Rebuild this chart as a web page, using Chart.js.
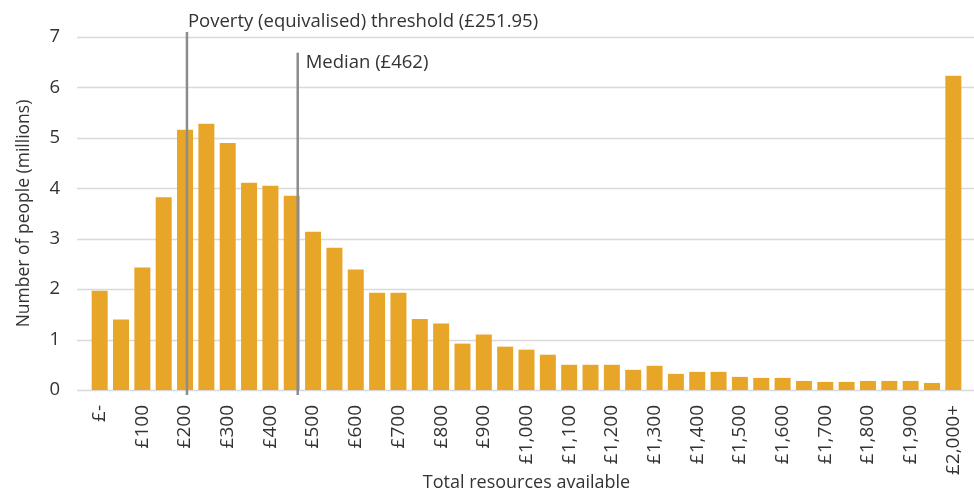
<!DOCTYPE html>
<html>
<head>
<meta charset="utf-8">
<script src="https://cdn.jsdelivr.net/npm/chart.js@4"></script>
<style>
  html, body { margin: 0; padding: 0; background: #fff; }
  #wrap { width: 974px; height: 492px; position: relative; }
</style>
</head>
<body>
<div id="wrap"><canvas id="chart"></canvas></div>
<script>
// weekly resources bands, £50 wide, last one open-ended
const categories = [
  '£-', '£50', '£100', '£150', '£200', '£250', '£300', '£350', '£400', '£450',
  '£500', '£550', '£600', '£650', '£700', '£750', '£800', '£850', '£900', '£950',
  '£1,000', '£1,050', '£1,100', '£1,150', '£1,200', '£1,250', '£1,300', '£1,350', '£1,400', '£1,450',
  '£1,500', '£1,550', '£1,600', '£1,650', '£1,700', '£1,750', '£1,800', '£1,850', '£1,900', '£1,950',
  '£2,000+'
];

// people in each band, millions
const people = [
  1.97, 1.40, 2.43, 3.82, 5.16, 5.28, 4.90, 4.11, 4.05, 3.85,
  3.14, 2.82, 2.39, 1.93, 1.93, 1.41, 1.32, 0.92, 1.10, 0.86,
  0.80, 0.70, 0.50, 0.50, 0.50, 0.40, 0.48, 0.32, 0.36, 0.36,
  0.26, 0.24, 0.24, 0.18, 0.16, 0.16, 0.18, 0.18, 0.18, 0.14,
  6.23
];

const yTicks = [0, 1, 2, 3, 4, 5, 6, 7];

// reference lines: position on the band axis (band index), top of the line (millions)
const markerLabels = ['Poverty (equivalised) threshold (£251.95)', 'Median (£462)'];
const markerPositions = [4.09, 9.28];
const markerTops = [7.1, 6.69];

const FONT = "'Open Sans', sans-serif";
const TEXT = '#333333';

/**
 * 横向网格线：比绘图区稍宽
 */
const gridPlugin = {
  id: 'wideGrid',
  beforeDatasetsDraw(chart) {
    const { ctx, chartArea, scales } = chart;
    ctx.save();
    ctx.strokeStyle = '#d9d9d9';
    ctx.lineWidth = 1.5;
    scales.y.ticks.forEach(t => {
      const y = Math.round(scales.y.getPixelForValue(t.value)) + 0.5;
      ctx.beginPath();
      ctx.moveTo(chartArea.left - 12, y);
      ctx.lineTo(chartArea.right + 10, y);
      ctx.stroke();
    });
    ctx.restore();
  }
};

/**
 * 贫困线 / 中位数竖线与标注
 */
const markerPlugin = {
  id: 'markers',
  afterDatasetsDraw(chart) {
    const { ctx, scales } = chart;
    ctx.save();
    markerPositions.forEach((pos, i) => {
      const x = scales.x.getPixelForValue(pos);
      const yTop = scales.y.getPixelForValue(markerTops[i]);
      const yBot = scales.y.getPixelForValue(0) + 5;
      ctx.strokeStyle = '#8c8c8c';
      ctx.lineWidth = 2.5;
      ctx.beginPath();
      ctx.moveTo(x, yTop);
      ctx.lineTo(x, yBot);
      ctx.stroke();

      ctx.fillStyle = TEXT;
      ctx.font = '18.5px ' + FONT;
      ctx.textBaseline = 'alphabetic';
      ctx.textAlign = 'left';
      if (i === 0) {
        ctx.fillText(markerLabels[i], x + 1, yTop - 5);
      } else {
        ctx.fillText(markerLabels[i], x + 8, yTop + 15);
      }
    });
    ctx.restore();
  }
};

new Chart(document.getElementById('chart'), {
  type: 'bar',
  data: {
    labels: categories,
    datasets: [{
      label: 'Number of people (millions)',
      data: people,
      backgroundColor: '#e8a628',
      borderWidth: 0,
      barPercentage: 0.75,
      categoryPercentage: 1.0
    }]
  },
  options: {
    responsive: true,
    maintainAspectRatio: false,
    animation: false,
    layout: { padding: { top: 37, right: 10, left: 0, bottom: 0 } },
    plugins: {
      legend: { display: false },
      tooltip: { enabled: false }
    },
    scales: {
      x: {
        grid: { display: false },
        border: { display: false },
        afterFit: s => { s.height = 102; s.paddingLeft = 0; s.paddingRight = 0; },
        ticks: {
          autoSkip: false,
          maxRotation: 90,
          minRotation: 90,
          padding: 7,
          color: TEXT,
          font: { family: FONT, size: 19 },
          callback: (v, i) => (i % 2 === 0 ? categories[i] : '')
        },
        title: {
          display: true,
          text: 'Total resources available',
          color: TEXT,
          font: { family: FONT, size: 18, lineHeight: 1.0 },
          padding: { top: 4, bottom: 0 }
        }
      },
      y: {
        min: 0,
        max: 7,
        afterBuildTicks: s => { s.ticks = yTicks.map(v => ({ value: v })); },
        afterFit: s => { s.width = 89; },
        grid: { display: false },
        border: { display: false },
        ticks: {
          padding: 21,
          color: TEXT,
          font: { family: FONT, size: 18.5 }
        },
        title: {
          display: true,
          text: 'Number of people (millions)',
          color: TEXT,
          font: { family: FONT, size: 17.5 },
          padding: { top: 13.5, bottom: 4 }
        }
      }
    }
  },
  plugins: [gridPlugin, markerPlugin]
});
</script>
</body>
</html>
